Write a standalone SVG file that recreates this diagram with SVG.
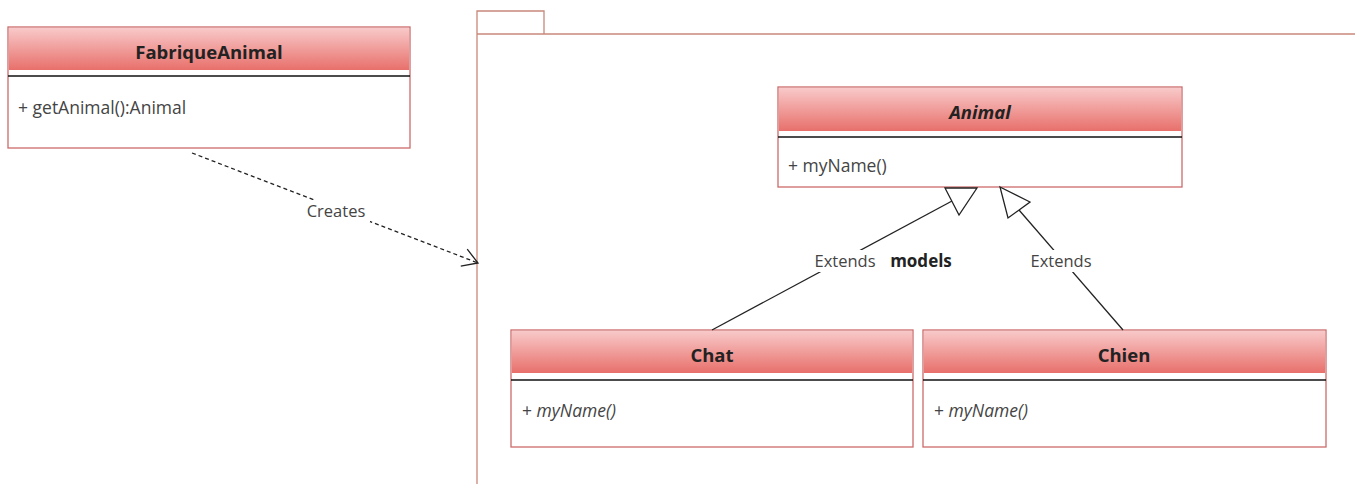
<svg xmlns="http://www.w3.org/2000/svg" width="1355" height="484" viewBox="0 0 1355 484">
<defs>
<linearGradient id="hdr" x1="0" y1="0" x2="0" y2="1">
<stop offset="0" stop-color="#f8c9c9"/>
<stop offset="1" stop-color="#e8706b"/>
</linearGradient>
<marker id="open" markerWidth="20" markerHeight="20" refX="18" refY="10" orient="auto" markerUnits="userSpaceOnUse">
<path d="M3,1 L18,10 L3,19" fill="none" stroke="#222" stroke-width="1.3"/>
</marker>
</defs>
<style>
.box{fill:#fff;stroke:#cc6a6a;stroke-width:1.3}
.hdr{fill:url(#hdr)}
.sep{stroke:#111;stroke-width:1.6}
.title{font-family:"Open Sans","Noto Sans",sans-serif;font-weight:bold;font-size:18.5px;fill:#222;text-anchor:middle}
.title-i{font-style:italic}
.body{font-family:"Open Sans","Noto Sans",sans-serif;font-size:17.5px;fill:#444}
.body-i{font-style:italic}
.lbl{font-family:"Open Sans","Noto Sans",sans-serif;font-size:16.5px;fill:#444;text-anchor:middle}
.pkg{fill:none;stroke:#c8877a;stroke-width:1.3}
.edge{fill:none;stroke:#222;stroke-width:1.3}
.tri{fill:#fff;stroke:#222;stroke-width:1.3}
</style>

<g id="package-models">
<path class="pkg" d="M477,484 L477,11 L544,11 L544,34"/>
<path class="pkg" d="M477,34 L1355,34"/>
</g>

<g id="FabriqueAnimal">
<rect class="box" x="8" y="27" width="402" height="121"/>
<rect class="hdr" x="9" y="28" width="400" height="42"/>
<line class="sep" x1="8" y1="76" x2="410" y2="76"/>
<text class="title" x="209" y="59">FabriqueAnimal</text>
<text class="body" x="18" y="114">+ getAnimal():Animal</text>
</g>

<g id="Animal">
<rect class="box" x="778" y="87" width="404" height="100"/>
<rect class="hdr" x="779" y="88" width="402" height="43"/>
<line class="sep" x1="778" y1="137" x2="1182" y2="137"/>
<text class="title title-i" x="980" y="119">Animal</text>
<text class="body" x="788" y="172">+ myName()</text>
</g>

<g id="Chat">
<rect class="box" x="511" y="330" width="402" height="117"/>
<rect class="hdr" x="512" y="331" width="400" height="42"/>
<line class="sep" x1="511" y1="380" x2="913" y2="380"/>
<text class="title" x="712" y="362">Chat</text>
<text class="body" x="522" y="417">+ <tspan class="body-i">myName()</tspan></text>
</g>

<g id="Chien">
<rect class="box" x="923" y="330" width="403" height="117"/>
<rect class="hdr" x="924" y="331" width="401" height="42"/>
<line class="sep" x1="923" y1="380" x2="1326" y2="380"/>
<text class="title" x="1124" y="362">Chien</text>
<text class="body" x="934" y="417">+ <tspan class="body-i">myName()</tspan></text>
</g>

<g id="connectors">
<line class="edge" x1="192" y1="153" x2="478" y2="263" stroke-dasharray="4,3" marker-end="url(#open)"/>
<rect x="302" y="200" width="68" height="22" fill="#fff"/>
<text class="lbl" x="336" y="217">Creates</text>

<line class="edge" x1="712" y1="330" x2="952" y2="201"/>
<polygon class="tri" points="977,188 945,188 959,215"/>
<rect x="811" y="250" width="68" height="22" fill="#fff"/>
<text class="lbl" x="845" y="267">Extends</text>

<line class="edge" x1="1123" y1="330" x2="1019" y2="210"/>
<polygon class="tri" points="1000,187 1030,202 1008,218"/>
<rect x="1027" y="250" width="68" height="22" fill="#fff"/>
<text class="lbl" x="1061" y="267">Extends</text>
</g>

<text x="921" y="267" font-family="'Open Sans','Noto Sans',sans-serif" font-weight="bold" font-size="17" fill="#222" text-anchor="middle">models</text>
</svg>
